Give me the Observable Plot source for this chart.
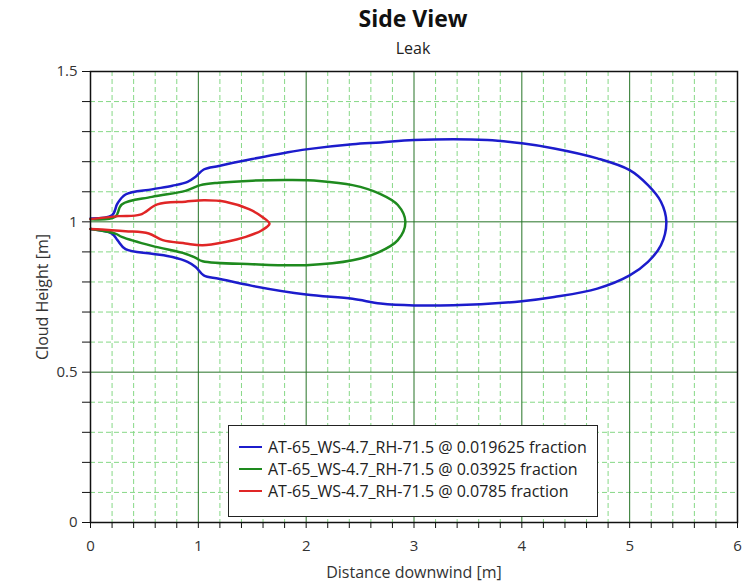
<!DOCTYPE html>
<html>
<head>
<meta charset="utf-8">
<script src="https://cdn.jsdelivr.net/npm/d3@7"></script>
<script src="https://cdn.jsdelivr.net/npm/@observablehq/plot@0.6"></script>
<style>
  html, body { margin: 0; padding: 0; background: #fff; }
  body { width: 748px; height: 583px; position: relative; overflow: hidden; font-family: "Open Sans", sans-serif; }
  #title { height: 36px; line-height: 36px; text-align: center; font-size: 23px; font-weight: bold; color: #111; padding-left: 78px; }
  #subtitle { height: 24px; line-height: 24px; text-align: center; font-size: 16px; color: #222; padding-left: 78px; }
  #legend { position: absolute; left: 228px; top: 425px; width: 370px; height: 92px; border: 1.5px solid #222; background: #fff; box-sizing: border-box; padding-top: 10px; }
  .row { height: 22px; display: flex; align-items: center; font-size: 16px; color: #222; white-space: nowrap; }
  .sw { width: 23px; height: 0; border-top: 2.5px solid; margin-left: 10px; margin-right: 6px; }
</style>
</head>
<body>
<div id="title">Side View</div>
<div id="subtitle">Leak</div>
<div id="chart"></div>
<div id="legend"></div>
<script>
const seriesNames = [
  "AT-65_WS-4.7_RH-71.5 @ 0.019625 fraction",
  "AT-65_WS-4.7_RH-71.5 @ 0.03925 fraction",
  "AT-65_WS-4.7_RH-71.5 @ 0.0785 fraction"
];
const seriesColors = ["#1c1ccc", "#1e8a1e", "#e02626"];

const blueX = [0,0.2,0.25,0.325,0.57,0.76,0.9,0.975,1.05,1.19,1.5,1.81,2.0,2.43,2.69,3.0,3.68,4.0,4.3,4.7,5.0,5.17,5.29,5.34,5.29,5.17,5.0,4.7,4.3,4.0,3.62,3.0,2.69,2.43,2.0,1.5,1.19,1.05,0.975,0.9,0.76,0.57,0.325,0.25,0.2,0];
const blueY = [1.011,1.022,1.061,1.091,1.108,1.12,1.133,1.15,1.174,1.186,1.209,1.23,1.241,1.258,1.264,1.272,1.272,1.261,1.244,1.211,1.172,1.122,1.067,1.0,0.922,0.867,0.822,0.778,0.75,0.736,0.726,0.722,0.728,0.744,0.758,0.787,0.811,0.822,0.85,0.867,0.883,0.894,0.909,0.939,0.961,0.976];

const greenX = [0,0.23,0.29,0.57,0.88,1.02,1.19,1.5,1.87,2.12,2.43,2.68,2.85,2.92,2.85,2.68,2.43,2.0,1.5,1.04,0.975,0.88,0.57,0.29,0.23,0];
const greenY = [1.009,1.017,1.058,1.083,1.103,1.122,1.13,1.137,1.139,1.136,1.122,1.094,1.056,1.0,0.939,0.9,0.872,0.856,0.859,0.869,0.88,0.894,0.92,0.95,0.961,0.976];

const redX = [0,0.26,0.46,0.62,0.88,1.05,1.25,1.47,1.59,1.66,1.59,1.44,1.25,1.04,0.88,0.67,0.54,0.325,0];
const redY = [1.009,1.019,1.024,1.058,1.067,1.072,1.067,1.042,1.017,0.994,0.972,0.95,0.933,0.922,0.928,0.939,0.961,0.969,0.976];

const xMajor = [0,1,2,3,4,5,6];
const yMajor = [0,0.5,1,1.5];
const xMinor = d3.range(0, 6.001, 0.2).map(v => +v.toFixed(1)).filter(v => !xMajor.includes(v));
const yMinor = d3.range(0, 1.501, 0.1).map(v => +v.toFixed(1)).filter(v => !yMajor.includes(v));

const xs = [blueX, greenX, redX];
const ys = [blueY, greenY, redY];
const data = [];
xs.forEach((arr, s) => arr.forEach((x, i) => data.push({series: seriesNames[s], x, y: ys[s][i]})));

const blank = () => "";

const chart = Plot.plot({
  width: 748,
  height: 523,
  marginLeft: 90,
  marginRight: 11,
  marginTop: 11,
  marginBottom: 61,
  style: {fontFamily: "Open Sans, sans-serif", fontSize: "14px", color: "#333", background: "#fff"},
  x: {domain: [0, 6]},
  y: {domain: [0, 1.5]},
  color: {domain: seriesNames, range: seriesColors},
  marks: [
    Plot.ruleX(xMinor, {stroke: "#86d886", strokeDasharray: "5,3", strokeWidth: 1}),
    Plot.ruleY(yMinor, {stroke: "#86d886", strokeDasharray: "5,3", strokeWidth: 1}),
    Plot.ruleX([1,2,3,4,5], {stroke: "#267326", strokeWidth: 1}),
    Plot.ruleY([0.5, 1], {stroke: "#267326", strokeWidth: 1}),
    Plot.line(data, {x: "x", y: "y", z: "series", stroke: "series", strokeWidth: 2.5, curve: "catmull-rom"}),
    Plot.frame({stroke: "#111", strokeWidth: 1.5}),
    Plot.axisX(xMinor, {tickSize: 6, tickFormat: blank, label: null, stroke: "#111"}),
    Plot.axisX(xMajor, {tickSize: 6, tickPadding: 12, stroke: "#111", fill: "#333", fontSize: 15, tickFormat: d => String(d), label: "Distance downwind [m]", labelAnchor: "center", labelArrow: "none", labelOffset: 55}),
    Plot.axisY(yMinor, {tickSize: 8, tickFormat: blank, label: null, stroke: "#111"}),
    Plot.axisY(yMajor, {tickSize: 8, tickPadding: 5, stroke: "#111", fill: "#333", fontSize: 15, tickFormat: d => String(d), label: "Cloud Height [m]", labelAnchor: "center", labelArrow: "none", labelOffset: 54})
  ]
});
chart.querySelectorAll("[aria-label='x-axis label'], [aria-label='y-axis label']").forEach(g => g.setAttribute("font-size", "16"));
document.getElementById("chart").appendChild(chart);

const legend = document.getElementById("legend");
seriesNames.forEach((name, i) => {
  const row = document.createElement("div");
  row.className = "row";
  const sw = document.createElement("div");
  sw.className = "sw";
  sw.style.borderTopColor = seriesColors[i];
  const t = document.createElement("span");
  t.textContent = name;
  row.appendChild(sw);
  row.appendChild(t);
  legend.appendChild(row);
});
</script>
</body>
</html>
